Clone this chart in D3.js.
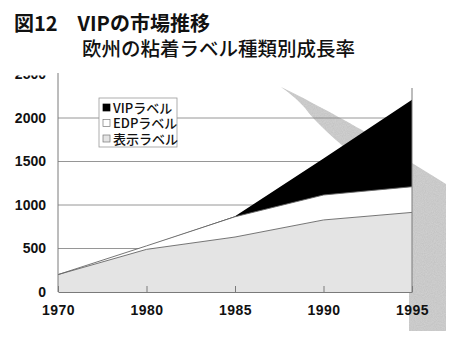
<!DOCTYPE html>
<html>
<head>
<meta charset="utf-8">
<script src="https://cdn.jsdelivr.net/npm/d3@7"></script>
<style>
  html, body { margin: 0; padding: 0; background: #fff; }
  svg { display: block; }
</style>
</head>
<body>
<svg id="chart" width="459" height="339"></svg>
<script>
// Label market in Europe, stacked by label type
const years = ["1970", "1980", "1985", "1990", "1995"];
const displayLabel = [200, 490, 632, 828, 915];   // 表示ラベル
const edpLabel = [0, 40, 233, 287, 295];          // EDPラベル
const vipLabel = [0, 0, 5, 420, 1000];            // VIPラベル
const yTicks = [0, 500, 1000, 1500, 2000, 2500];
const seriesNames = ["表示ラベル", "EDPラベル", "VIPラベル"];
const legendOrder = ["VIPラベル", "EDPラベル", "表示ラベル"];

const rows = years.map((y, i) => ({
  year: y,
  "表示ラベル": displayLabel[i],
  "EDPラベル": edpLabel[i],
  "VIPラベル": vipLabel[i]
}));

const fills = { "表示ラベル": "#e4e4e4", "EDPラベル": "#ffffff", "VIPラベル": "#000000" };

const svg = d3.select("#chart");
const latin = "'Liberation Sans', Arial, sans-serif";
const jp = "'Noto Sans CJK JP', sans-serif";

const x = d3.scalePoint().domain(years).range([58, 412]);
const y = d3.scaleLinear().domain([0, 2500]).range([292, 74.5]);

// grain texture for the decorative ribbon
const defs = svg.append("defs");
const f = defs.append("filter").attr("id", "grain").attr("x", 0).attr("y", 0).attr("width", 1).attr("height", 1);
f.append("feTurbulence").attr("type", "fractalNoise").attr("baseFrequency", 0.9).attr("numOctaves", 2).attr("seed", 3).attr("result", "n");
f.append("feColorMatrix").attr("in", "n").attr("type", "matrix")
  .attr("values", "0 0 0 0 0  0 0 0 0 0  0 0 0 0 0  0 0 0 0.18 0").attr("result", "a");
f.append("feComposite").attr("in", "a").attr("in2", "SourceGraphic").attr("operator", "in").attr("result", "b");
f.append("feMerge").selectAll("feMergeNode").data(["SourceGraphic", "b"]).enter()
  .append("feMergeNode").attr("in", d => d);

// decorative curved ribbon behind the plot
svg.append("path")
  .attr("d", "M281,87 C300,96 330,112 362,130 L412,163 L446,184 L446,331 L409,331 L409,250 L360,160 C335,140 315,122 305,108 C296,98 288,92 281,87 Z")
  .attr("fill", "#d3d3d3")
  .attr("filter", "url(#grain)");

// horizontal gridlines
svg.append("g").selectAll("line").data(yTicks.filter(d => d > 0)).enter().append("line")
  .attr("x1", x(years[0])).attr("x2", x(years[years.length - 1]))
  .attr("y1", d => y(d)).attr("y2", d => y(d))
  .attr("stroke", "#8a8a8a").attr("stroke-width", 0.9);

// stacked areas
const stack = d3.stack().keys(seriesNames);
const layers = stack(rows);
const area = d3.area()
  .x(d => x(d.data.year))
  .y0(d => y(d[0]))
  .y1(d => y(d[1]));
const topLine = d3.line()
  .x(d => x(d.data.year))
  .y(d => y(d[1]));

svg.append("g").selectAll("path").data(layers).enter().append("path")
  .attr("d", area)
  .attr("fill", d => fills[d.key]);

svg.append("g").selectAll("path").data(layers.slice(0, 2)).enter().append("path")
  .attr("d", topLine)
  .attr("fill", "none")
  .attr("stroke", "#666")
  .attr("stroke-width", 0.9);

// axes
const axisColor = "#7a7a7a";
svg.append("line").attr("x1", 412).attr("x2", 412).attr("y1", 88).attr("y2", y(0))
  .attr("stroke", axisColor).attr("stroke-width", 1);

const xAxis = d3.axisBottom(x).tickSizeInner(-6).tickSizeOuter(0).tickPadding(13);
const gx = svg.append("g").attr("transform", `translate(0,${y(0)})`).call(xAxis);
gx.select(".domain").attr("stroke", axisColor);
gx.selectAll(".tick line").attr("stroke", axisColor);
gx.selectAll(".tick text")
  .attr("font-family", latin).attr("font-size", 14).attr("font-weight", "bold")
  .attr("fill", "#111").attr("letter-spacing", "0.5px");

const yAxis = d3.axisLeft(y).tickValues(yTicks).tickFormat(d3.format("d")).tickSize(0).tickPadding(12);
const gy = svg.append("g").attr("transform", "translate(58,0)").call(yAxis);
gy.select(".domain").remove();
gy.selectAll(".tick text")
  .attr("font-family", latin).attr("font-size", 14).attr("font-weight", "bold")
  .attr("fill", "#111");

// legend
const lg = svg.append("g").attr("transform", "translate(99,98)");
lg.append("rect").attr("width", 78).attr("height", 49)
  .attr("fill", "#fff").attr("stroke", "#999").attr("stroke-width", 0.8);
const items = lg.selectAll("g.item").data(legendOrder).enter().append("g")
  .attr("transform", (d, i) => `translate(4,${10 + i * 15.5})`);
items.append("rect").attr("x", 0).attr("y", -4).attr("width", 7).attr("height", 7)
  .attr("fill", d => fills[d]).attr("stroke", d => d === "VIPラベル" ? "#000" : "#777")
  .attr("stroke-width", 0.7);
items.append("text").attr("x", 10).attr("y", 0).attr("dy", "0.36em")
  .attr("font-family", jp).attr("font-size", 13).attr("font-weight", 500)
  .attr("fill", "#111").text(d => d);

// header area, drawn over the top of the plot
svg.append("rect").attr("x", 0).attr("y", 0).attr("width", 459).attr("height", 75.5).attr("fill", "#fff");
svg.append("line").attr("x1", 58).attr("x2", 58).attr("y1", 73).attr("y2", y(0))
  .attr("stroke", axisColor).attr("stroke-width", 1);
svg.append("text").attr("x", 14).attr("y", 31)
  .attr("font-family", jp).attr("font-size", 20).attr("font-weight", "bold")
  .attr("fill", "#111").text("図12　VIPの市場推移");
svg.append("text").attr("x", 82).attr("y", 56)
  .attr("font-family", jp).attr("font-size", 19.5).attr("font-weight", 500)
  .attr("fill", "#111").text("欧州の粘着ラベル種類別成長率");
</script>
</body>
</html>
